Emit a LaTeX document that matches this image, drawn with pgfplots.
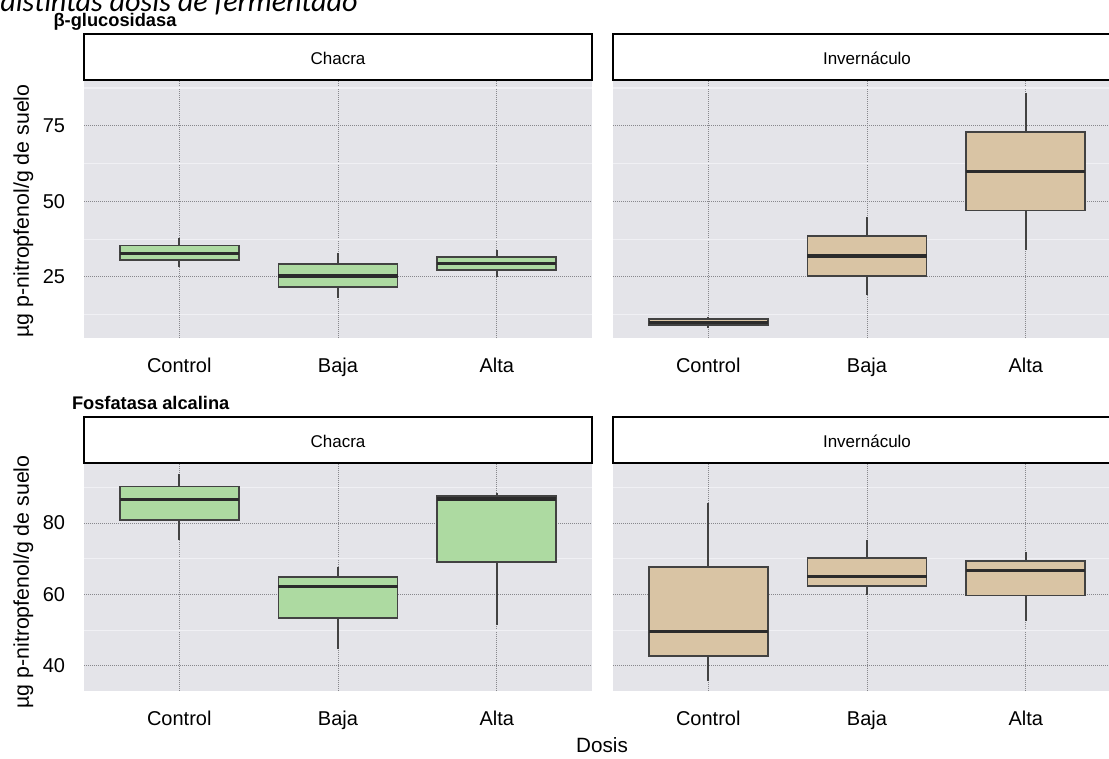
\documentclass[border=0pt]{standalone}
\usepackage{pgfplots}
\pgfplotsset{compat=1.18}
\usepgfplotslibrary{statistics}
\usepackage{fontspec}
\setmainfont{Liberation Sans}
\newfontfamily\titlefont{Carlito}

\definecolor{panelbg}{RGB}{228,228,233}
\definecolor{minorcol}{RGB}{240,240,244}
\definecolor{gridcol}{RGB}{135,135,140}
\definecolor{boxgreen}{RGB}{173,218,161}
\definecolor{boxtan}{RGB}{217,196,164}
\definecolor{boxedge}{RGB}{66,66,66}
\definecolor{medcol}{RGB}{43,43,43}

% one box from its five numbers: position, low whisker, Q1, median, Q3, high whisker, style
\newcommand{\bx}[7]{\addplot[#7, boxplot prepared={draw position=#1,
  lower whisker=#2, lower quartile=#3, median=#4, upper quartile=#5,
  upper whisker=#6}] coordinates {};}

\tikzset{
  strip/.style={line width=1.5pt, draw=black, fill=white},
  striptext/.style={font=\fontsize{12.75}{15}\selectfont, anchor=base},
}

\pgfplotsset{
  panel/.style={
    scale only axis, width=381pt, anchor=south west, clip=false,
    xmin=-0.6, xmax=2.6,
    xtick={0,1,2}, xticklabels={Control,Baja,Alta},
    axis background/.style={fill=panelbg},
    axis line style={draw=none},
    tick style={draw=none},
    xmajorgrids, ymajorgrids, yminorgrids,
    major grid style={gridcol, line width=0.75pt, dash pattern=on 0.75pt off 0.75pt},
    minor grid style={minorcol, line width=1pt},
    tick label style={font=\fontsize{15}{18}\selectfont},
    /pgf/number format/assume math mode=true,
    xticklabel style={inner sep=0pt, yshift=-15pt},
    yticklabel style={inner sep=0pt, xshift=-14pt},
    boxplot/draw direction=y,
    boxplot/box extend=0.75,
    boxplot/whisker extend=0,
    boxplot/every median/.style={draw=medcol, line width=2.6pt},
  },
  greenbox/.style={draw=boxedge, fill=boxgreen, line width=1.3pt},
  tanbox/.style={draw=boxedge, fill=boxtan, line width=1.3pt},
  topaxis/.style={panel, height=193.5pt, ymin=4.8, ymax=90.2,
    ytick={25,50,75}, minor ytick={12.5,37.5,62.5,87.5}},
  botaxis/.style={panel, height=171pt, ymin=33, ymax=96.8,
    ytick={40,60,80}, minor ytick={50,70,90}},
}

\begin{document}
\begin{tikzpicture}
\path[use as bounding box] (0,0) rectangle (831.75pt,568.5pt);

% beta-glucosidasa, Chacra
\begin{axis}[topaxis, at={(63pt,315pt)}]
  \bx{0}{28.2}{30.5}{32.8}{35.4}{37.8}{greenbox}
  \bx{1}{17.9}{21.7}{25.4}{29.2}{32.8}{greenbox}
  \bx{2}{25.0}{27.2}{29.5}{31.6}{33.8}{greenbox}
  \draw[strip] (rel axis cs:0,1) rectangle ([yshift=34.5pt]rel axis cs:1,1);
  \node[striptext] at ([yshift=11.6pt]rel axis cs:0.5,1) {Chacra};
\end{axis}

% beta-glucosidasa, Invernaculo
\begin{axis}[topaxis, at={(459.75pt,315pt)}, yticklabels={}]
  \bx{0}{8.0}{9.0}{10.0}{11.0}{11.9}{tanbox}
  \bx{1}{19.0}{25.4}{32.0}{38.5}{45.0}{tanbox}
  \bx{2}{34.0}{47.0}{60.0}{72.9}{85.8}{tanbox}
  \draw[strip] (rel axis cs:0,1) rectangle ([yshift=34.5pt]rel axis cs:1,1);
  \node[striptext] at ([yshift=11.6pt]rel axis cs:0.5,1) {Invernáculo};
\end{axis}

% fosfatasa alcalina, Chacra
\begin{axis}[botaxis, at={(63pt,50.25pt)}]
  \bx{0}{75.2}{80.8}{86.6}{90.2}{93.7}{greenbox}
  \bx{1}{44.7}{53.4}{62.3}{65.0}{67.6}{greenbox}
  \bx{2}{51.5}{69.2}{86.7}{87.6}{88.3}{greenbox}
  \draw[strip] (rel axis cs:0,1) rectangle ([yshift=34.5pt]rel axis cs:1,1);
  \node[striptext] at ([yshift=11.6pt]rel axis cs:0.5,1) {Chacra};
\end{axis}

% fosfatasa alcalina, Invernaculo
\begin{axis}[botaxis, at={(459.75pt,50.25pt)}, yticklabels={}]
  \bx{0}{35.9}{42.8}{49.7}{67.6}{85.5}{tanbox}
  \bx{1}{59.9}{62.4}{65.1}{70.2}{75.3}{tanbox}
  \bx{2}{52.7}{59.7}{66.7}{69.3}{72.0}{tanbox}
  \draw[strip] (rel axis cs:0,1) rectangle ([yshift=34.5pt]rel axis cs:1,1);
  \node[striptext] at ([yshift=11.6pt]rel axis cs:0.5,1) {Invernáculo};
\end{axis}

% titles and shared labels
\node[anchor=base west, inner sep=0pt, font=\titlefont\itshape\fontsize{22.6}{26}\selectfont]
  at (0pt,559.5pt) {distintas dosis de fermentado};
\node[anchor=base west, inner sep=0pt, font=\bfseries\fontsize{13.7}{16}\selectfont]
  at (40pt,548.5pt) {β-glucosidasa};
\node[anchor=base west, inner sep=0pt, font=\bfseries\fontsize{13.7}{16}\selectfont]
  at (53.8pt,261.75pt) {Fosfatasa alcalina};
\node[rotate=90, inner sep=0pt, font=\fontsize{16}{19}\selectfont]
  at (17.6pt,410.25pt) {µg p-nitropfenol/g de suelo};
\node[rotate=90, inner sep=0pt, font=\fontsize{16}{19}\selectfont]
  at (17.6pt,132pt) {µg p-nitropfenol/g de suelo};
\node[inner sep=0pt, font=\fontsize{15.5}{18}\selectfont]
  at (451.5pt,9.75pt) {Dosis};
\end{tikzpicture}
\end{document}
